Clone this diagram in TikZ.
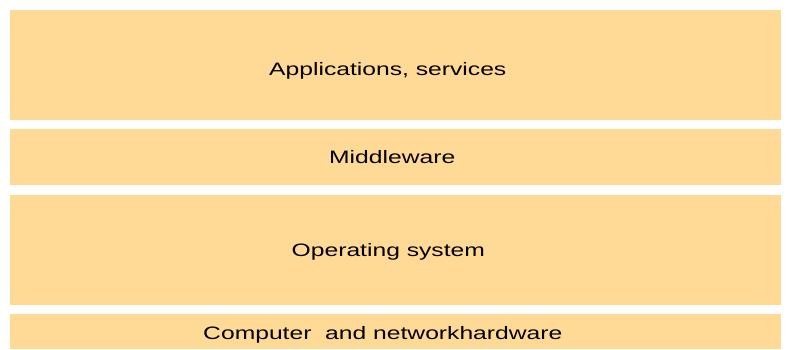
\documentclass[tikz,border=0pt]{standalone}
\usepackage{fontspec}
\setmainfont{Liberation Sans}
\definecolor{layerfill}{RGB}{255,217,150}
\begin{document}
\begin{tikzpicture}[x=1pt,y=-1pt,
  layer/.style={fill=layerfill,draw=none},
  lbl/.style={anchor=base,inner sep=0pt,font=\fontsize{18}{21}\selectfont,text=black}]
\useasboundingbox (0,0) rectangle (791,350);
\fill[white] (0,0) rectangle (791,350);
\path[layer] (10,10) rectangle (781,120) coordinate (appsbox);
\path[layer] (10,129) rectangle (781,185) coordinate (midbox);
\path[layer] (10,195) rectangle (781,305) coordinate (osbox);
\path[layer] (10,314) rectangle (781,349) coordinate (hwbox);
\node[lbl] (apps) at (387.8,76) {\scalebox{1.37}[1]{Applications, services}};
\node[lbl] (mid) at (392.2,163.3) {\scalebox{1.37}[1]{Middleware}};
\node[lbl] (os) at (388.3,256) {\scalebox{1.37}[1]{Operating system}};
\node[lbl] (hw) at (382.8,339.3) {\scalebox{1.37}[1]{Computer\ \ and networkhardware}};
\end{tikzpicture}
\end{document}
